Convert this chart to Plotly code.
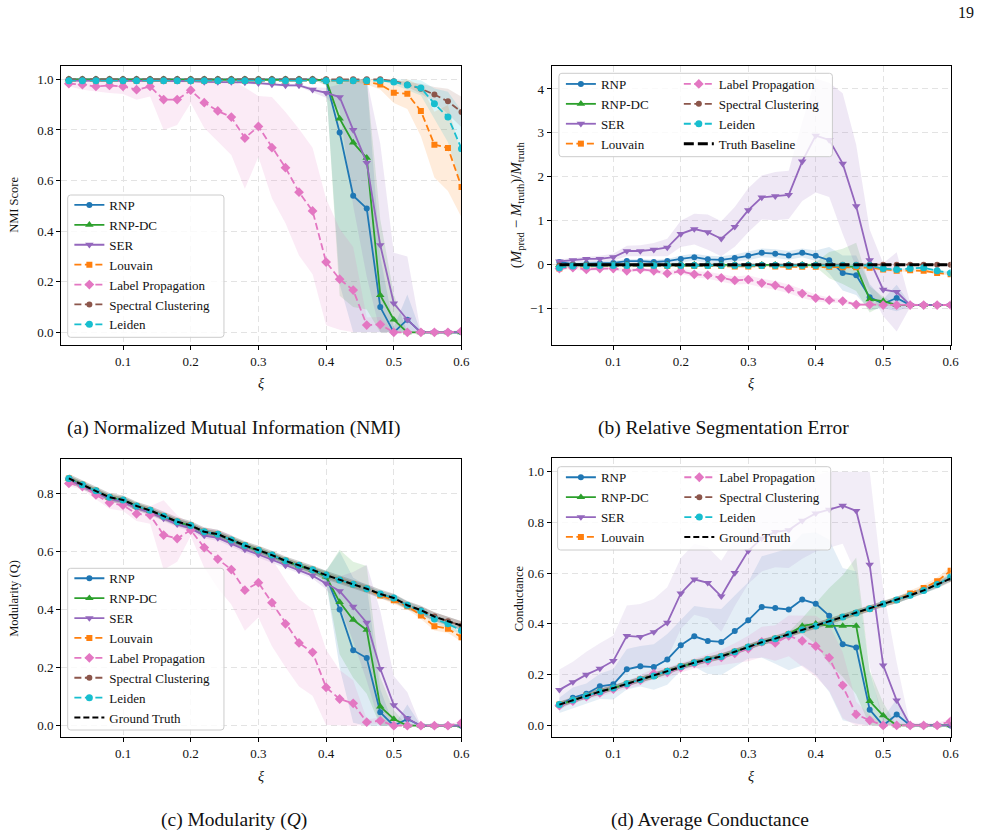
import plotly.graph_objects as go

# ---------------- data ----------------
xi = [0.02, 0.04, 0.06, 0.08, 0.10, 0.12, 0.14, 0.16, 0.18, 0.20,
      0.22, 0.24, 0.26, 0.28, 0.30, 0.32, 0.34, 0.36, 0.38, 0.40,
      0.42, 0.44, 0.46, 0.48, 0.50, 0.52, 0.54, 0.56, 0.58, 0.60]

methods = ["RNP", "RNP-DC", "SER", "Louvain", "Label Propagation", "Spectral Clustering", "Leiden"]

# (a) NMI
nmi_rnp = [1.0, 1.0, 1.0, 1.0, 1.0, 1.0, 1.0, 1.0, 1.0, 1.0, 1.0, 1.0, 1.0, 1.0, 1.0, 1.0, 1.0, 1.0, 1.0, 0.995,
           0.79, 0.54, 0.49, 0.10, 0.0, 0.05, 0.0, 0.0, 0.0, 0.0]
nmi_rnpdc = [1.0, 1.0, 1.0, 1.0, 1.0, 1.0, 1.0, 1.0, 1.0, 1.0, 1.0, 1.0, 1.0, 1.0, 1.0, 1.0, 1.0, 1.0, 1.0, 0.998,
             0.845, 0.75, 0.69, 0.147, 0.05, 0.0, 0.0, 0.0, 0.0, 0.0]
nmi_ser = [0.995, 0.995, 0.995, 0.995, 0.995, 0.995, 0.995, 0.995, 0.995, 0.993, 0.99, 0.99, 0.99, 0.988, 0.985,
           0.98, 0.976, 0.976, 0.959, 0.947, 0.93, 0.80, 0.67, 0.345, 0.115, 0.05, 0.0, 0.0, 0.0, 0.0]
nmi_louvain = [0.995, 0.995, 0.995, 0.995, 0.995, 0.995, 0.995, 0.995, 0.995, 0.995, 0.995, 0.995, 0.995, 0.995,
               0.995, 0.995, 0.995, 0.995, 0.995, 0.995, 0.995, 0.995, 0.99, 0.98, 0.947, 0.943, 0.875, 0.742,
               0.729, 0.575]
nmi_lp = [0.983, 0.979, 0.972, 0.976, 0.972, 0.959, 0.972, 0.92, 0.92, 0.957, 0.908, 0.875, 0.851, 0.768, 0.814,
          0.73, 0.651, 0.554, 0.48, 0.278, 0.21, 0.167, 0.029, 0.031, 0.0, 0.0, 0.0, 0.0, 0.0, 0.005]
nmi_spectral = [1.0, 1.0, 1.0, 1.0, 1.0, 1.0, 1.0, 1.0, 1.0, 1.0, 1.0, 1.0, 1.0, 1.0, 1.0, 1.0, 1.0, 1.0, 1.0, 1.0,
                1.0, 1.0, 1.0, 1.0, 0.993, 0.98, 0.963, 0.94, 0.913, 0.871]
nmi_leiden = [0.995, 0.995, 0.995, 0.995, 0.995, 0.995, 0.995, 0.995, 0.995, 0.995, 0.995, 0.995, 0.995, 0.995,
              0.995, 0.995, 0.995, 0.995, 0.995, 0.995, 0.995, 0.995, 0.995, 0.995, 0.99, 0.978, 0.966, 0.904,
              0.851, 0.726]
nmi_rnp_sd = [0, 0, 0, 0, 0, 0, 0, 0, 0, 0, 0, 0, 0, 0, 0, 0, 0, 0, 0, 0.02,
              0.6, 0.6, 0.55, 0.2, 0.02, 0.1, 0, 0, 0, 0]
nmi_rnpdc_sd = [0, 0, 0, 0, 0, 0, 0, 0, 0, 0, 0, 0, 0, 0, 0, 0, 0, 0, 0, 0.02,
                0.7, 0.65, 0.6, 0.3, 0.1, 0, 0, 0, 0, 0]
nmi_ser_sd = [0.005, 0.005, 0.005, 0.005, 0.005, 0.005, 0.005, 0.005, 0.005, 0.005, 0.005, 0.005, 0.005, 0.005,
              0.005, 0.005, 0.005, 0.005, 0.01, 0.02, 0.05, 0.3, 0.45, 0.4, 0.2, 0.25, 0, 0, 0, 0]
nmi_louvain_sd = [0, 0, 0, 0, 0, 0, 0, 0, 0, 0, 0, 0, 0, 0, 0, 0, 0, 0, 0, 0, 0, 0.005, 0.01, 0.02,
                  0.04, 0.06, 0.1, 0.13, 0.17, 0.12]
nmi_lp_sd = [0.01, 0.02, 0.02, 0.03, 0.03, 0.04, 0.04, 0.12, 0.1, 0.05, 0.1, 0.12, 0.15, 0.2, 0.12, 0.2, 0.22,
             0.25, 0.25, 0.25, 0.2, 0.17, 0.03, 0.03, 0, 0, 0, 0, 0, 0.01]
nmi_spectral_sd = [0, 0, 0, 0, 0, 0, 0, 0, 0, 0, 0, 0, 0, 0, 0, 0, 0, 0, 0, 0, 0, 0, 0, 0, 0.005,
                   0.01, 0.02, 0.03, 0.05, 0.06]
nmi_leiden_sd = [0, 0, 0, 0, 0, 0, 0, 0, 0, 0, 0, 0, 0, 0, 0, 0, 0, 0, 0, 0, 0, 0, 0, 0, 0.01,
                 0.02, 0.03, 0.06, 0.1, 0.15]

# (b) relative segmentation error
rel_rnp = [0.06, 0.01, 0.02, 0.03, 0.04, 0.08, 0.08, 0.06, 0.08, 0.13, 0.17, 0.12, 0.11, 0.15, 0.20, 0.27, 0.25,
           0.21, 0.27, 0.20, 0.10, -0.19, -0.24, -0.74, -0.89, -0.76, -0.92, -0.92, -0.92, -0.92]
rel_rnpdc = [-0.01, 0.0, 0.0, 0.0, 0.0, 0.0, 0.0, 0.0, 0.0, 0.0, 0.0, 0.0, 0.0, 0.0, 0.0, 0.0, 0.0, 0.0, 0.0, 0.0,
             -0.01, -0.04, -0.05, -0.79, -0.83, -0.92, -0.92, -0.92, -0.92, -0.92]
rel_ser = [0.075, 0.10, 0.13, 0.13, 0.17, 0.31, 0.31, 0.34, 0.39, 0.70, 0.81, 0.74, 0.59, 0.86, 1.24, 1.53, 1.56,
           1.59, 2.35, 2.94, 2.84, 2.30, 1.33, 0.10, -0.57, -0.62, -0.92, -0.92, -0.92, -0.92]
rel_louvain = [-0.09, -0.05, -0.04, -0.03, -0.03, -0.03, -0.03, -0.03, -0.03, -0.03, -0.03, -0.03, -0.03, -0.04,
               -0.04, -0.03, -0.04, -0.05, -0.05, -0.05, -0.05, -0.06, -0.06, -0.07, -0.11, -0.14, -0.13, -0.14,
               -0.19, -0.22]
rel_lp = [-0.09, -0.07, -0.11, -0.09, -0.09, -0.14, -0.11, -0.14, -0.20, -0.15, -0.22, -0.24, -0.30, -0.36, -0.34,
          -0.42, -0.47, -0.55, -0.66, -0.76, -0.81, -0.83, -0.91, -0.91, -0.92, -0.92, -0.92, -0.92, -0.92, -0.92]
rel_spectral = [-0.02, 0.0, 0.0, 0.0, 0.0, 0.0, 0.0, 0.0, 0.0, 0.0, 0.0, 0.0, 0.0, 0.0, 0.0, 0.0, 0.0, 0.0, 0.0,
                0.0, 0.0, 0.0, 0.0, 0.0, 0.0, 0.0, 0.0, 0.0, 0.0, 0.0]
rel_leiden = [-0.07, -0.03, -0.03, -0.02, -0.02, -0.02, -0.02, -0.02, -0.02, -0.02, -0.02, -0.02, -0.02, -0.02,
              -0.02, -0.02, -0.02, -0.02, -0.02, -0.02, -0.02, -0.02, -0.02, -0.02, -0.09, -0.11, -0.09, -0.07,
              -0.14, -0.19]
rel_truth = [0.0, 0.0, 0.0, 0.0, 0.0, 0.0, 0.0, 0.0, 0.0, 0.0, 0.0, 0.0, 0.0, 0.0, 0.0, 0.0, 0.0, 0.0, 0.0, 0.0,
             0.0, 0.0, 0.0, 0.0, 0.0, 0.0, 0.0, 0.0, 0.0, 0.0]
rel_rnp_sd = [0.05, 0.05, 0.05, 0.05, 0.05, 0.05, 0.05, 0.05, 0.05, 0.08, 0.08, 0.08, 0.08, 0.08, 0.1, 0.1, 0.1,
              0.1, 0.1, 0.12, 0.3, 0.4, 0.45, 0.3, 0.1, 0.3, 0.02, 0, 0, 0]
rel_rnpdc_sd = [0.02, 0.02, 0.02, 0.02, 0.02, 0.02, 0.02, 0.02, 0.02, 0.02, 0.02, 0.02, 0.02, 0.02, 0.02, 0.02,
                0.02, 0.02, 0.02, 0.05, 0.3, 0.4, 0.55, 0.3, 0.1, 0.02, 0, 0, 0, 0]
rel_ser_sd = [0.05, 0.05, 0.06, 0.07, 0.08, 0.12, 0.13, 0.15, 0.2, 0.3, 0.35, 0.4, 0.4, 0.45, 0.5, 0.5, 0.55,
              0.55, 0.9, 1.3, 1.3, 1.6, 1.4, 0.7, 0.6, 0.9, 0.05, 0, 0, 0]
rel_louvain_sd = [0.02, 0.02, 0.02, 0.02, 0.02, 0.02, 0.02, 0.02, 0.02, 0.02, 0.02, 0.02, 0.02, 0.02, 0.02, 0.02,
                  0.02, 0.02, 0.02, 0.02, 0.02, 0.02, 0.02, 0.03, 0.03, 0.03, 0.03, 0.03, 0.03, 0.03]
rel_lp_sd = [0.04, 0.04, 0.04, 0.04, 0.04, 0.04, 0.04, 0.05, 0.05, 0.06, 0.07, 0.08, 0.08, 0.09, 0.1, 0.1, 0.1,
             0.1, 0.1, 0.08, 0.06, 0.05, 0.03, 0.02, 0.01, 0.01, 0.01, 0.01, 0.01, 0.01]
rel_spectral_sd = [0.01, 0.01, 0.01, 0.01, 0.01, 0.01, 0.01, 0.01, 0.01, 0.01, 0.01, 0.01, 0.01, 0.01, 0.01, 0.01,
                   0.01, 0.01, 0.01, 0.01, 0.01, 0.01, 0.01, 0.01, 0.01, 0.01, 0.01, 0.01, 0.01, 0.01]
rel_leiden_sd = [0.02, 0.02, 0.02, 0.02, 0.02, 0.02, 0.02, 0.02, 0.02, 0.02, 0.02, 0.02, 0.02, 0.02, 0.02, 0.02,
                 0.02, 0.02, 0.02, 0.02, 0.02, 0.02, 0.02, 0.02, 0.03, 0.03, 0.03, 0.03, 0.03, 0.03]

# (c) modularity
mod_truth = [0.852, 0.83, 0.81, 0.787, 0.778, 0.757, 0.742, 0.722, 0.703, 0.69, 0.668, 0.66, 0.64, 0.621, 0.605,
             0.588, 0.568, 0.553, 0.537, 0.519, 0.502, 0.487, 0.472, 0.454, 0.44, 0.415, 0.398, 0.376, 0.36, 0.345]
mod_spectral = [0.852, 0.83, 0.81, 0.787, 0.778, 0.757, 0.742, 0.722, 0.703, 0.69, 0.668, 0.66, 0.64, 0.621, 0.605,
                0.588, 0.568, 0.553, 0.537, 0.519, 0.502, 0.487, 0.472, 0.454, 0.44, 0.415, 0.398, 0.376, 0.36,
                0.345]
mod_louvain = [0.852, 0.83, 0.81, 0.787, 0.778, 0.757, 0.742, 0.722, 0.703, 0.69, 0.668, 0.66, 0.64, 0.621, 0.605,
               0.588, 0.568, 0.553, 0.537, 0.519, 0.502, 0.487, 0.472, 0.449, 0.432, 0.412, 0.38, 0.343, 0.334,
               0.305]
mod_leiden = [0.852, 0.83, 0.81, 0.787, 0.778, 0.757, 0.742, 0.722, 0.703, 0.69, 0.668, 0.66, 0.64, 0.621, 0.605,
              0.588, 0.568, 0.553, 0.537, 0.519, 0.502, 0.487, 0.472, 0.454, 0.44, 0.415, 0.395, 0.368, 0.351,
              0.328]
mod_rnp = [0.85, 0.828, 0.808, 0.785, 0.776, 0.755, 0.74, 0.72, 0.701, 0.688, 0.666, 0.658, 0.638, 0.619, 0.603,
           0.586, 0.566, 0.551, 0.535, 0.514, 0.40, 0.26, 0.233, 0.046, 0.0, 0.023, 0.0, 0.0, 0.0, 0.0]
mod_rnpdc = [0.851, 0.829, 0.809, 0.786, 0.777, 0.756, 0.741, 0.721, 0.702, 0.689, 0.667, 0.659, 0.639, 0.62, 0.604,
             0.587, 0.567, 0.552, 0.536, 0.514, 0.426, 0.365, 0.33, 0.066, 0.023, 0.0, 0.0, 0.0, 0.0, 0.0]
mod_ser = [0.848, 0.826, 0.805, 0.782, 0.772, 0.75, 0.735, 0.714, 0.694, 0.68, 0.655, 0.647, 0.627, 0.607, 0.59,
           0.572, 0.552, 0.535, 0.517, 0.49, 0.464, 0.41, 0.355, 0.196, 0.071, 0.025, 0.0, 0.0, 0.0, 0.0]
mod_lp = [0.835, 0.824, 0.795, 0.768, 0.76, 0.73, 0.726, 0.657, 0.645, 0.674, 0.614, 0.574, 0.538, 0.467, 0.493,
          0.424, 0.351, 0.285, 0.253, 0.132, 0.092, 0.077, 0.012, 0.017, 0.0, 0.0, 0.0, 0.0, 0.0, 0.01]
mod_truth_sd = [0.015, 0.015, 0.015, 0.015, 0.015, 0.015, 0.015, 0.015, 0.015, 0.015, 0.015, 0.015, 0.015, 0.015,
                0.015, 0.015, 0.015, 0.015, 0.015, 0.015, 0.015, 0.015, 0.015, 0.015, 0.015, 0.015, 0.015, 0.015,
                0.015, 0.015]
mod_small_sd = [0.01, 0.01, 0.01, 0.01, 0.01, 0.01, 0.01, 0.01, 0.01, 0.01, 0.01, 0.01, 0.01, 0.01, 0.01, 0.01,
                0.01, 0.01, 0.01, 0.01, 0.01, 0.01, 0.01, 0.01, 0.012, 0.012, 0.012, 0.015, 0.015, 0.015]
mod_rnp_sd = [0.01, 0.01, 0.01, 0.01, 0.01, 0.01, 0.01, 0.01, 0.01, 0.01, 0.01, 0.01, 0.01, 0.01, 0.01, 0.01,
              0.01, 0.01, 0.01, 0.02, 0.2, 0.25, 0.25, 0.08, 0.0, 0.05, 0, 0, 0, 0]
mod_rnpdc_sd = [0.01, 0.01, 0.01, 0.01, 0.01, 0.01, 0.01, 0.01, 0.01, 0.01, 0.01, 0.01, 0.01, 0.01, 0.01, 0.01,
                0.01, 0.01, 0.01, 0.02, 0.18, 0.2, 0.22, 0.1, 0.03, 0, 0, 0, 0, 0]
mod_ser_sd = [0.01, 0.01, 0.01, 0.01, 0.01, 0.01, 0.01, 0.01, 0.01, 0.01, 0.01, 0.01, 0.01, 0.01, 0.01, 0.01,
              0.01, 0.01, 0.01, 0.02, 0.05, 0.12, 0.2, 0.2, 0.1, 0.09, 0, 0, 0, 0]
mod_lp_sd = [0.01, 0.01, 0.015, 0.02, 0.02, 0.025, 0.03, 0.12, 0.08, 0.02, 0.07, 0.1, 0.12, 0.14, 0.12, 0.15, 0.15,
             0.15, 0.15, 0.13, 0.1, 0.08, 0.01, 0.01, 0.005, 0.005, 0.005, 0.005, 0.005, 0.005]

# (d) average conductance
cond_truth = [0.082, 0.10, 0.117, 0.133, 0.147, 0.164, 0.181, 0.195, 0.213, 0.232, 0.247, 0.26, 0.272, 0.29, 0.309,
              0.328, 0.342, 0.359, 0.377, 0.392, 0.409, 0.427, 0.443, 0.46, 0.479, 0.494, 0.513, 0.532, 0.555,
              0.579]
cond_spectral = [0.082, 0.10, 0.117, 0.133, 0.147, 0.164, 0.181, 0.195, 0.213, 0.232, 0.247, 0.26, 0.272, 0.29,
                 0.309, 0.328, 0.342, 0.359, 0.377, 0.392, 0.409, 0.427, 0.443, 0.46, 0.479, 0.494, 0.513, 0.532,
                 0.555, 0.579]
cond_louvain = [0.082, 0.10, 0.117, 0.133, 0.147, 0.164, 0.181, 0.195, 0.213, 0.232, 0.247, 0.26, 0.272, 0.29,
                0.309, 0.328, 0.342, 0.359, 0.377, 0.392, 0.409, 0.427, 0.443, 0.46, 0.479, 0.494, 0.52, 0.542,
                0.568, 0.61]
cond_leiden = [0.082, 0.10, 0.117, 0.133, 0.147, 0.164, 0.181, 0.195, 0.213, 0.232, 0.247, 0.26, 0.272, 0.29,
               0.309, 0.328, 0.342, 0.359, 0.377, 0.392, 0.409, 0.427, 0.443, 0.46, 0.479, 0.494, 0.513, 0.532,
               0.555, 0.585]
cond_rnp = [0.079, 0.109, 0.125, 0.154, 0.162, 0.221, 0.233, 0.23, 0.26, 0.316, 0.351, 0.333, 0.329, 0.372, 0.414,
            0.467, 0.463, 0.457, 0.496, 0.48, 0.432, 0.32, 0.307, 0.062, 0.0, 0.043, 0.0, 0.0, 0.0, 0.0]
cond_rnpdc = [0.082, 0.10, 0.117, 0.133, 0.147, 0.164, 0.181, 0.195, 0.213, 0.232, 0.247, 0.26, 0.272, 0.29, 0.309,
              0.328, 0.342, 0.359, 0.392, 0.401, 0.392, 0.392, 0.392, 0.096, 0.039, 0.0, 0.0, 0.0, 0.0, 0.0]
cond_ser = [0.14, 0.171, 0.2, 0.224, 0.254, 0.353, 0.349, 0.368, 0.405, 0.52, 0.576, 0.562, 0.509, 0.601, 0.688,
            0.737, 0.763, 0.77, 0.807, 0.836, 0.851, 0.866, 0.846, 0.634, 0.237, 0.099, 0.0, 0.0, 0.0, 0.0]
cond_lp = [0.078, 0.096, 0.113, 0.128, 0.143, 0.16, 0.178, 0.204, 0.209, 0.228, 0.244, 0.255, 0.268, 0.284, 0.303,
           0.329, 0.325, 0.353, 0.333, 0.312, 0.267, 0.158, 0.043, 0.02, 0.0, 0.0, 0.0, 0.0, 0.0, 0.016]
cond_truth_sd = [0.012, 0.012, 0.012, 0.012, 0.012, 0.012, 0.012, 0.012, 0.012, 0.012, 0.012, 0.012, 0.012, 0.012,
                 0.012, 0.012, 0.012, 0.012, 0.012, 0.012, 0.012, 0.012, 0.012, 0.012, 0.012, 0.012, 0.012, 0.012,
                 0.012, 0.012]
cond_small_sd = [0.01, 0.01, 0.01, 0.01, 0.01, 0.01, 0.01, 0.01, 0.01, 0.01, 0.01, 0.01, 0.01, 0.01, 0.01, 0.01,
                 0.01, 0.01, 0.01, 0.01, 0.01, 0.01, 0.01, 0.01, 0.01, 0.012, 0.012, 0.012, 0.015, 0.015]
cond_rnp_sd = [0.03, 0.04, 0.04, 0.05, 0.06, 0.08, 0.08, 0.09, 0.1, 0.1, 0.12, 0.13, 0.13, 0.14, 0.15, 0.2, 0.22,
               0.24, 0.26, 0.28, 0.3, 0.3, 0.3, 0.15, 0.03, 0.06, 0, 0, 0, 0]
cond_rnpdc_sd = [0.01, 0.01, 0.01, 0.01, 0.01, 0.01, 0.01, 0.01, 0.01, 0.01, 0.01, 0.01, 0.01, 0.01, 0.01, 0.01,
                 0.01, 0.01, 0.03, 0.08, 0.15, 0.2, 0.27, 0.12, 0.05, 0, 0, 0, 0, 0]
cond_ser_sd = [0.08, 0.08, 0.09, 0.1, 0.1, 0.12, 0.13, 0.13, 0.14, 0.14, 0.14, 0.14, 0.14, 0.13, 0.13, 0.13, 0.14,
               0.15, 0.15, 0.15, 0.15, 0.15, 0.25, 0.4, 0.3, 0.15, 0, 0, 0, 0]
cond_lp_sd = [0.01, 0.01, 0.01, 0.015, 0.015, 0.015, 0.02, 0.02, 0.02, 0.02, 0.02, 0.025, 0.03, 0.04, 0.05, 0.06,
              0.07, 0.08, 0.1, 0.12, 0.13, 0.13, 0.05, 0.02, 0.01, 0.01, 0.01, 0.01, 0.01, 0.01]

# ---------------- styling ----------------
W, H = 997, 837
FONT = "Liberation Serif"
COLORS = {"RNP": "#1f77b4", "RNP-DC": "#2ca02c", "SER": "#9467bd", "Louvain": "#ff7f0e",
          "Label Propagation": "#e377c2", "Spectral Clustering": "#8c564b", "Leiden": "#17becf"}
STYLE = {"RNP": ("solid", "circle", 6), "RNP-DC": ("solid", "triangle-up", 7.5),
         "SER": ("solid", "triangle-down", 7.5), "Louvain": ("7px,3.5px", "square", 6),
         "Label Propagation": ("7px,3.5px", "diamond", 7.5), "Spectral Clustering": ("7px,3.5px", "circle", 6),
         "Leiden": ("7px,3.5px", "circle", 7)}


def rgba(hexc, a):
    h = hexc.lstrip("#")
    return "rgba(%d,%d,%d,%.2f)" % (int(h[0:2], 16), int(h[2:4], 16), int(h[4:6], 16), a)


def pxx(x):
    return x / W


def pxy(y):
    return 1 - y / H


fig = go.Figure()

panels = {
    "a": dict(ax="", xd=(61.7, 465.7), yd=(65.7, 345.0), yr=(-0.05, 1.054),
              yt=[0.0, 0.2, 0.4, 0.6, 0.8, 1.0], ytt=["0.0", "0.2", "0.4", "0.6", "0.8", "1.0"]),
    "b": dict(ax="2", xd=(556.7, 959.3), yd=(65.7, 345.0), yr=(-1.83, 4.53),
              yt=[-1, 0, 1, 2, 3, 4], ytt=["\u22121", "0", "1", "2", "3", "4"]),
    "c": dict(ax="3", xd=(61.7, 465.7), yd=(459.3, 737.3), yr=(-0.04, 0.918),
              yt=[0.0, 0.2, 0.4, 0.6, 0.8], ytt=["0.0", "0.2", "0.4", "0.6", "0.8"]),
    "d": dict(ax="4", xd=(556.7, 959.3), yd=(458.3, 737.3), yr=(-0.047, 1.053),
              yt=[0.0, 0.2, 0.4, 0.6, 0.8, 1.0], ytt=["0.0", "0.2", "0.4", "0.6", "0.8", "1.0"]),
}


def add_band(p, mean, sd, color, clip, alpha=0.15):
    if max(sd) <= 0:
        return
    lo = [max(m - s, clip[0]) for m, s in zip(mean, sd)]
    hi = [min(m + s, clip[1]) for m, s in zip(mean, sd)]
    ax = panels[p]["ax"]
    fig.add_trace(go.Scatter(x=xi + xi[::-1], y=hi + lo[::-1], fill="toself", fillcolor=rgba(color, alpha),
                             line=dict(width=0), mode="lines", hoverinfo="skip", showlegend=False,
                             xaxis="x" + ax, yaxis="y" + ax))


def add_line(p, name, mean, legend, color=None, dash=None, symbol=None, size=None, width=1.8, markers=True):
    ax = panels[p]["ax"]
    if name in STYLE:
        dash, symbol, size = STYLE[name]
        color = COLORS[name]
    fig.add_trace(go.Scatter(x=xi, y=mean, name=name, mode="lines+markers" if markers else "lines",
                             line=dict(color=color, width=width, dash=dash),
                             marker=dict(symbol=symbol, size=size, color=color),
                             legend=legend, xaxis="x" + ax, yaxis="y" + ax))


# panel (a)
series_a = [("RNP", nmi_rnp, nmi_rnp_sd), ("RNP-DC", nmi_rnpdc, nmi_rnpdc_sd), ("SER", nmi_ser, nmi_ser_sd),
            ("Louvain", nmi_louvain, nmi_louvain_sd), ("Label Propagation", nmi_lp, nmi_lp_sd),
            ("Spectral Clustering", nmi_spectral, nmi_spectral_sd), ("Leiden", nmi_leiden, nmi_leiden_sd)]
for n, m, s in series_a:
    add_band("a", m, s, COLORS[n], (0.0, 1.0))
for n, m, s in series_a:
    add_line("a", n, m, "legend")

# panel (b)
series_b = [("RNP", rel_rnp, rel_rnp_sd), ("RNP-DC", rel_rnpdc, rel_rnpdc_sd), ("SER", rel_ser, rel_ser_sd),
            ("Louvain", rel_louvain, rel_louvain_sd), ("Label Propagation", rel_lp, rel_lp_sd),
            ("Spectral Clustering", rel_spectral, rel_spectral_sd), ("Leiden", rel_leiden, rel_leiden_sd)]
for n, m, s in series_b:
    add_band("b", m, s, COLORS[n], (-10, 10))
for i, (n, m, s) in enumerate(series_b):
    add_line("b", n, m, "legend2" if i < 4 else "legend3")
add_line("b", "Truth Baseline", rel_truth, "legend3", color="black", dash="10px,4px", width=3, markers=False)

# panel (c)
series_c = [("RNP", mod_rnp, mod_rnp_sd), ("RNP-DC", mod_rnpdc, mod_rnpdc_sd), ("SER", mod_ser, mod_ser_sd),
            ("Louvain", mod_louvain, mod_small_sd), ("Label Propagation", mod_lp, mod_lp_sd),
            ("Spectral Clustering", mod_spectral, mod_small_sd), ("Leiden", mod_leiden, mod_small_sd)]
add_band("c", mod_truth, mod_truth_sd, "#404040", (0.0, 1.0), alpha=0.25)
for n, m, s in series_c:
    add_band("c", m, s, COLORS[n], (0.0, 1.0))
for n, m, s in series_c:
    add_line("c", n, m, "legend4")
add_line("c", "Ground Truth", mod_truth, "legend4", color="black", dash="6px,3px", width=2, markers=False)

# panel (d)
series_d = [("RNP", cond_rnp, cond_rnp_sd), ("RNP-DC", cond_rnpdc, cond_rnpdc_sd), ("SER", cond_ser, cond_ser_sd),
            ("Louvain", cond_louvain, cond_small_sd), ("Label Propagation", cond_lp, cond_lp_sd),
            ("Spectral Clustering", cond_spectral, cond_small_sd), ("Leiden", cond_leiden, cond_small_sd)]
add_band("d", cond_truth, cond_truth_sd, "#404040", (0.0, 1.0), alpha=0.25)
for n, m, s in series_d:
    add_band("d", m, s, COLORS[n], (0.0, 1.0), alpha=0.12 if n in ("SER", "RNP") else 0.15)
for i, (n, m, s) in enumerate(series_d):
    add_line("d", n, m, "legend5" if i < 4 else "legend6")
add_line("d", "Ground Truth", cond_truth, "legend6", color="black", dash="6px,3px", width=2, markers=False)

# ---------------- axes ----------------
tickfont = dict(family=FONT, size=13, color="#111")
layout = {}
for p, cfg in panels.items():
    ax = cfg["ax"]
    common = dict(showline=True, linecolor="black", linewidth=1.3, mirror=True, ticks="outside", ticklen=4,
                  tickwidth=1, tickcolor="black", showgrid=True, gridcolor="#e3e3e3", gridwidth=0.9,
                  griddash="6px,4px", zeroline=False, tickfont=tickfont)
    layout["xaxis" + ax] = dict(common, domain=[pxx(cfg["xd"][0]), pxx(cfg["xd"][1])], range=[0.0086, 0.6],
                                tickvals=[0.1, 0.2, 0.3, 0.4, 0.5, 0.6],
                                ticktext=["0.1", "0.2", "0.3", "0.4", "0.5", "0.6"],
                                anchor="y" + ax)
    layout["yaxis" + ax] = dict(common, domain=[pxy(cfg["yd"][1]), pxy(cfg["yd"][0])], range=list(cfg["yr"]),
                                tickvals=cfg["yt"], ticktext=cfg["ytt"], anchor="x" + ax)
fig.update_layout(**layout)

# ---------------- legends ----------------
legfont = dict(family=FONT, size=13, color="#111")


def leg(x, y):
    return dict(x=pxx(x), y=pxy(y), xanchor="left", yanchor="top", bgcolor="rgba(0,0,0,0)", borderwidth=0,
                font=legfont, itemwidth=30, traceorder="normal", tracegroupgap=0)


fig.update_layout(legend=leg(70, 190), legend2=leg(566, 69), legend3=leg(685, 69),
                  legend4=leg(70, 563.3), legend5=leg(566, 462.3), legend6=leg(685.5, 462.3))


def rounded_box(x0, y0, x1, y1, r=3.0):
    X0, X1 = pxx(x0), pxx(x1)
    Y0, Y1 = pxy(y0), pxy(y1)
    rx, ry = r / W, r / H
    path = ("M {a},{t} L {b},{t} Q {X1},{t0} {X1},{c} L {X1},{d} Q {X1},{t1} {b},{t1} "
            "L {a},{t1} Q {X0},{t1} {X0},{d} L {X0},{c} Q {X0},{t0} {a},{t0} Z").format(
        a=X0 + rx, b=X1 - rx, t=Y0, t0=Y0, t1=Y1, c=Y0 - ry, d=Y1 + ry, X0=X0, X1=X1)
    return dict(type="path", xref="paper", yref="paper", path=path, fillcolor="rgba(255,255,255,0.8)",
                line=dict(color="#cccccc", width=1), layer="above")


fig.update_layout(shapes=[rounded_box(68.3, 195, 226, 337.3), rounded_box(564, 73.3, 840, 156.7),
                          rounded_box(68.3, 568.3, 226, 730), rounded_box(562.7, 466.7, 838.3, 550)])

# ---------------- text ----------------
ann = []


def text(x, y, s, size, angle=0):
    ann.append(dict(x=pxx(x), y=pxy(y), xref="paper", yref="paper", text=s, showarrow=False, textangle=angle,
                    font=dict(family=FONT, size=size, color="#111"), xanchor="center", yanchor="middle"))


text(263.7, 383, "<i>ξ</i>", 14)
text(758, 383, "<i>ξ</i>", 14)
text(263.7, 776, "<i>ξ</i>", 14)
text(758, 776, "<i>ξ</i>", 14)
text(14, 205, "NMI Score", 12.5, -90)
text(522, 205, "(<i>M</i><sub>pred</sub> \u2212 <i>M</i><sub>truth</sub>)/<i>M</i><sub>truth</sub>", 15, -90)
text(14, 598, "Modularity (Q)", 12.5, -90)
text(524, 598, "Conductance", 12.5, -90)
text(236, 428, "(a) Normalized Mutual Information (NMI)", 19.5)
text(730, 428, "(b) Relative Segmentation Error", 19.5)
text(236, 820, "(c) Modularity (<i>Q</i>)", 19.5)
text(716, 820, "(d) Average Conductance", 19.5)
text(975, 13, "19", 16)

fig.update_layout(annotations=ann, width=W, height=H, margin=dict(l=0, r=0, t=0, b=0),
                  paper_bgcolor="white", plot_bgcolor="white", showlegend=True)

fig.write_html("out.html")
